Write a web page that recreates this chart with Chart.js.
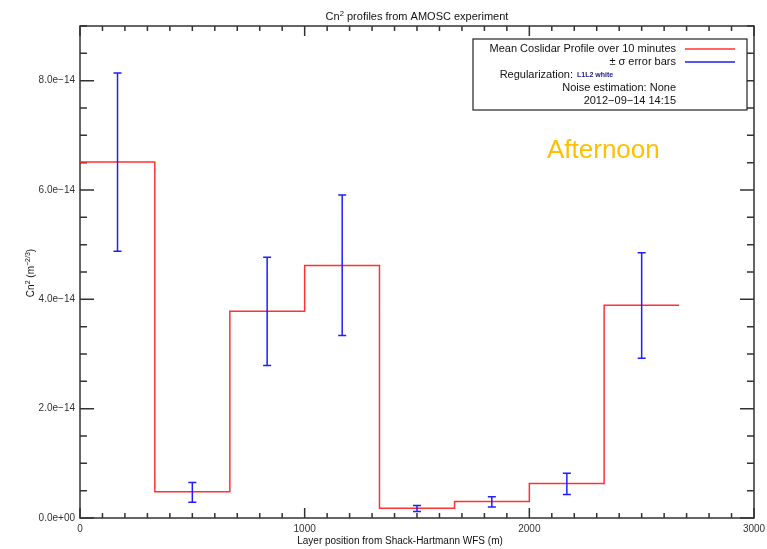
<!DOCTYPE html>
<html>
<head>
<meta charset="utf-8">
<script src="https://cdn.jsdelivr.net/npm/chart.js@4.4.0/dist/chart.umd.min.js"></script>
<style>
  body { margin: 0; background: #fff; }
  canvas { display: block; }
</style>
</head>
<body>
<canvas id="myChart" width="767" height="549"></canvas>
<script>
// layer boundaries (m) - each layer ~333 m thick
const layerEdges = [0, 333, 667, 1000, 1333, 1667, 2000, 2333, 2667];
// error bar positions (layer centres, m)
const layerCenters = [167, 500, 833, 1167, 1500, 1833, 2167, 2500];
// Cn2 mean profile and +/- sigma bounds (m^-2/3)
const meanCn2 = [6.51e-14, 0.48e-14, 3.78e-14, 4.62e-14, 0.18e-14, 0.30e-14, 0.63e-14, 3.89e-14];
const errHigh = [8.14e-14, 0.65e-14, 4.77e-14, 5.91e-14, 0.23e-14, 0.39e-14, 0.82e-14, 4.85e-14];
const errLow  = [4.88e-14, 0.29e-14, 2.79e-14, 3.34e-14, 0.12e-14, 0.20e-14, 0.43e-14, 2.92e-14];
// axis ticks
const xMajor = [0, 1000, 2000, 3000];
const xLabels = ['0', '1000', '2000', '3000'];
const yMajor = [0, 2e-14, 4e-14, 6e-14, 8e-14];
const yLabels = ['0.0e+00', '2.0e\u221214', '4.0e\u221214', '6.0e\u221214', '8.0e\u221214'];

const RED = 'rgb(255,50,50)';
const BLUE = 'rgb(30,30,255)';
const AXIS = '#333';
const FONT = '"Liberation Sans", Arial, sans-serif';

// step line points from layer edges
let stepData = [];
layerEdges.forEach((x, i) => {
    stepData.push({ x: x, y: meanCn2[Math.min(i, meanCn2.length - 1)] });
});

const errorBarPlugin = {
    id: 'errorBars',
    afterDatasetsDraw(chart) {
        const ctx = chart.ctx;
        const xs = chart.scales.x, ys = chart.scales.y;
        ctx.save();
        ctx.strokeStyle = BLUE;
        ctx.lineWidth = 1.5;
        layerCenters.forEach((c, i) => {
            const px = xs.getPixelForValue(c);
            const top = ys.getPixelForValue(errHigh[i]);
            const bot = ys.getPixelForValue(errLow[i]);
            ctx.beginPath();
            ctx.moveTo(px, top); ctx.lineTo(px, bot);
            ctx.moveTo(px - 4, top); ctx.lineTo(px + 4, top);
            ctx.moveTo(px - 4, bot); ctx.lineTo(px + 4, bot);
            ctx.stroke();
        });
        ctx.restore();
    }
};

// draws a string made of [text, superscript] pieces starting at x
function drawPieces(ctx, pieces, x, y, size) {
    pieces.forEach(p => {
        const s = p.sup ? size * 0.7 : size;
        ctx.font = s + 'px ' + FONT;
        ctx.fillText(p.t, x, p.sup ? y - size * 0.4 : y);
        x += ctx.measureText(p.t).width;
    });
}
function piecesWidth(ctx, pieces, size) {
    let w = 0;
    pieces.forEach(p => {
        ctx.font = (p.sup ? size * 0.7 : size) + 'px ' + FONT;
        w += ctx.measureText(p.t).width;
    });
    return w;
}

const framePlugin = {
    id: 'frame',
    beforeDatasetsDraw(chart) {
        const ctx = chart.ctx;
        const a = chart.chartArea;
        const xs = chart.scales.x, ys = chart.scales.y;
        ctx.save();
        ctx.strokeStyle = AXIS;
        ctx.lineWidth = 1.5;
        ctx.strokeRect(a.left, a.top, a.right - a.left, a.bottom - a.top);

        // ticks (inward on all four sides)
        ctx.beginPath();
        for (let v = 0; v <= 3000; v += 100) {
            const px = xs.getPixelForValue(v);
            const len = (v % 1000 === 0) ? 10 : 5;
            ctx.moveTo(px, a.bottom); ctx.lineTo(px, a.bottom - len);
            ctx.moveTo(px, a.top); ctx.lineTo(px, a.top + len);
        }
        for (let k = 0; k <= 18; k++) {
            const py = ys.getPixelForValue(k * 0.5e-14);
            const len = (k % 4 === 0) ? 14 : 7;
            ctx.moveTo(a.left, py); ctx.lineTo(a.left + len, py);
            ctx.moveTo(a.right, py); ctx.lineTo(a.right - len, py);
        }
        ctx.stroke();
        ctx.restore();
    },
    afterDraw(chart) {
        const ctx = chart.ctx;
        const a = chart.chartArea;
        const xs = chart.scales.x, ys = chart.scales.y;
        ctx.save();

        // tick labels
        ctx.fillStyle = '#333';
        ctx.font = '10px ' + FONT;
        ctx.textBaseline = 'middle';
        ctx.textAlign = 'center';
        xMajor.forEach((v, i) => {
            ctx.fillText(xLabels[i], xs.getPixelForValue(v), a.bottom + 11);
        });
        ctx.textAlign = 'right';
        yMajor.forEach((v, i) => {
            ctx.fillText(yLabels[i], a.left - 5, ys.getPixelForValue(v));
        });

        // titles
        ctx.fillStyle = '#111';
        ctx.textAlign = 'left';
        ctx.textBaseline = 'alphabetic';
        const title = [{ t: 'Cn' }, { t: '2', sup: true }, { t: ' profiles from AMOSC experiment' }];
        const tw = piecesWidth(ctx, title, 11);
        drawPieces(ctx, title, 417 - tw / 2, 20, 11);

        ctx.font = '10px ' + FONT;
        ctx.textAlign = 'center';
        ctx.fillText('Layer position from Shack-Hartmann WFS (m)', 400, 544);

        ctx.save();
        ctx.translate(34, 273);
        ctx.rotate(-Math.PI / 2);
        ctx.textAlign = 'left';
        const yt = [{ t: 'Cn' }, { t: '2', sup: true }, { t: ' (m' }, { t: '\u22122/3', sup: true }, { t: ')' }];
        const yw = piecesWidth(ctx, yt, 10);
        drawPieces(ctx, yt, -yw / 2, 0, 10);
        ctx.restore();

        // legend box
        ctx.fillStyle = '#fff';
        ctx.fillRect(473, 39, 274, 71);
        ctx.strokeStyle = '#222';
        ctx.lineWidth = 1.2;
        ctx.strokeRect(473, 39, 274, 71);
        ctx.fillStyle = '#111';
        ctx.font = '11px ' + FONT;
        ctx.textAlign = 'right';
        ctx.textBaseline = 'middle';
        ctx.fillText('Mean Coslidar Profile over 10 minutes', 676, 49);
        ctx.fillText('\u00b1 \u03c3 error bars', 676, 62);
        ctx.fillText('Regularization:', 573, 75);
        ctx.fillText('Noise estimation: None', 676, 88);
        ctx.fillText('2012\u221209\u221214 14:15', 676, 101);
        ctx.textAlign = 'left';
        ctx.font = 'bold 7px ' + FONT;
        ctx.fillStyle = '#202080';
        ctx.fillText('L1L2 white', 577, 75);

        ctx.lineWidth = 1.5;
        ctx.strokeStyle = RED;
        ctx.beginPath(); ctx.moveTo(685, 49); ctx.lineTo(735, 49); ctx.stroke();
        ctx.strokeStyle = BLUE;
        ctx.beginPath(); ctx.moveTo(685, 62); ctx.lineTo(735, 62); ctx.stroke();

        // annotation
        ctx.fillStyle = '#FFC000';
        ctx.font = '26px ' + FONT;
        ctx.textAlign = 'left';
        ctx.fillText('Afternoon', 547, 151);
        ctx.restore();
    }
};

const ctx = document.getElementById('myChart');

new Chart(ctx, {
    type: 'line',
    data: {
        datasets: [{
            label: 'Mean Coslidar Profile over 10 minutes',
            data: stepData,
            stepped: 'before',
            borderColor: RED,
            borderWidth: 1.5,
            pointRadius: 0,
            fill: false
        }]
    },
    options: {
        responsive: false,
        animation: false,
        layout: {
            padding: { left: 80, right: 13, top: 26, bottom: 31 }
        },
        plugins: {
            legend: { display: false },
            tooltip: { enabled: false }
        },
        scales: {
            x: { type: 'linear', min: 0, max: 3000, display: false },
            y: { type: 'linear', min: 0, max: 9e-14, display: false }
        }
    },
    plugins: [framePlugin, errorBarPlugin]
});
</script>
</body>
</html>
